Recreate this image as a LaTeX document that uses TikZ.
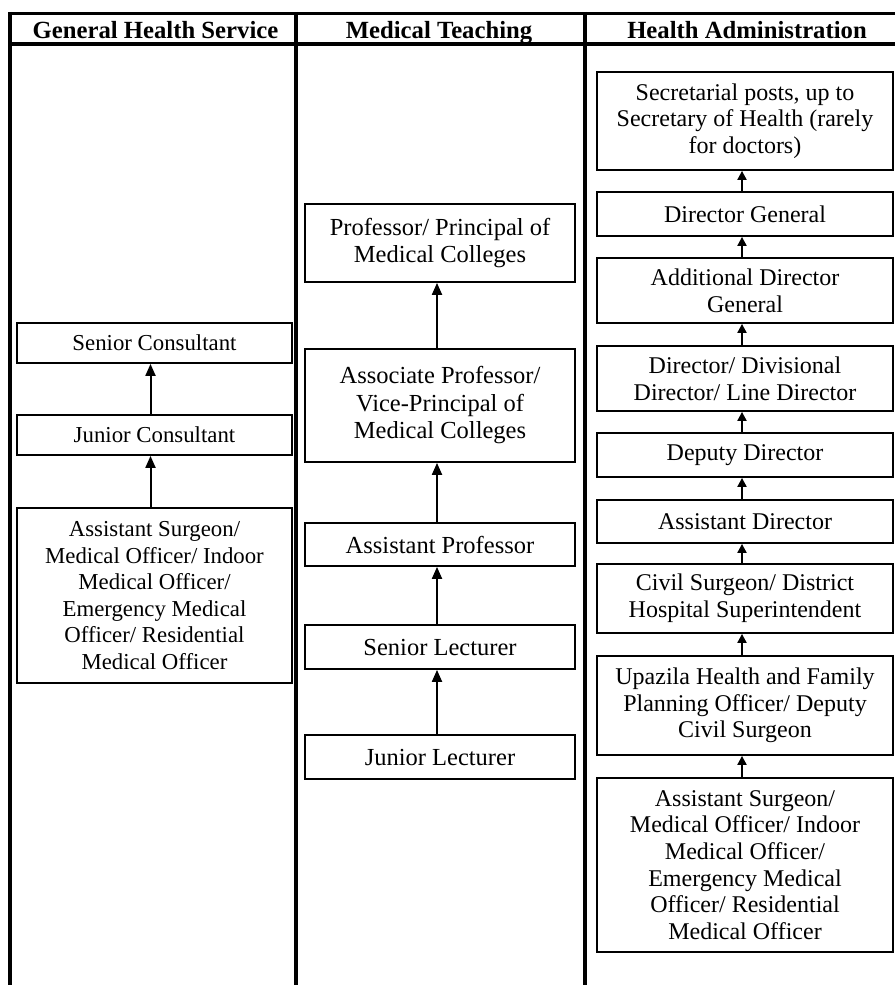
\documentclass[tikz,border=0pt]{standalone}
\usepackage{fontspec}
\setmainfont{Liberation Serif}
\usetikzlibrary{arrows.meta}
\begin{document}
\begin{tikzpicture}[x=1pt,y=-1pt,
  box/.style={draw, line width=1.8pt, align=center, inner sep=0pt},
  boxA/.style={box, minimum width=275pt, font=\fontsize{22.8}{26.5}\selectfont},
  boxB/.style={box, minimum width=270pt, font=\fontsize{24.5}{27.5}\selectfont},
  boxC/.style={box, minimum width=296pt, font=\fontsize{24}{26.7}\selectfont},
  arr/.style={line width=2pt, -{Triangle[length=12pt,width=10pt]}},
  arrs/.style={line width=2pt, -{Triangle[length=9pt,width=9pt]}},
  hdr/.style={anchor=base, inner sep=0pt, font=\fontsize{24.7}{28}\selectfont\bfseries},
  frame/.style={line width=4pt}]
\useasboundingbox (0,0) rectangle (895,985);
% frame
\draw[frame, line width=3.5pt] (8,13.5) -- (895,13.5);
\draw[frame] (8,44) -- (895,44);
\draw[frame] (10,11.75) -- (10,985);
\draw[frame] (296,11.75) -- (296,985);
\draw[frame] (584.5,11.75) -- (584.5,985);
% headers
\node[hdr] (t1) at (155.5,38) {General Health Service};
\node[hdr] (t2) at (439,38) {Medical Teaching};
\node[hdr] (t3) at (747,38) {Health Administration};
% column 1
\node[boxA, minimum height=40pt] (gs) at (154.5,343) {Senior Consultant};
\node[boxA, minimum height=40pt] (gj) at (154.5,435) {Junior Consultant};
\node[boxA, minimum height=175pt] (ga) at (154.5,595.5) {Assistant Surgeon/\\Medical Officer/ Indoor\\Medical Officer/\\Emergency Medical\\Officer/ Residential\\Medical Officer};
\draw[arr] ([xshift=-4pt]ga.north) -- ([xshift=-4pt]gj.south);
\draw[arr] ([xshift=-4pt]gj.north) -- ([xshift=-4pt]gs.south);
% column 2
\node[boxB, minimum height=78pt] (mp) at (440,243) {Professor/ Principal of\\Medical Colleges};
\node[boxB, minimum height=113pt] (ma) at (440,405.5) {Associate Professor/\\Vice-Principal of\\Medical Colleges};
\node[boxB, minimum height=43pt] (map) at (440,544.5) {Assistant Professor};
\node[boxB, minimum height=44pt] (msl) at (440,647) {Senior Lecturer};
\node[boxB, minimum height=44pt] (mjl) at (440,757) {Junior Lecturer};
\draw[arr] ([xshift=-3pt]mjl.north) -- ([xshift=-3pt]msl.south);
\draw[arr] ([xshift=-3pt]msl.north) -- ([xshift=-3pt]map.south);
\draw[arr] ([xshift=-3pt]map.north) -- ([xshift=-3pt]ma.south);
\draw[arr] ([xshift=-3pt]ma.north) -- ([xshift=-3pt]mp.south);
% column 3
\node[boxC, minimum height=98pt] (h1) at (745,121) {Secretarial posts, up to\\Secretary of Health (rarely\\for doctors)};
\node[boxC, minimum height=44pt] (h2) at (745,214) {Director General};
\node[boxC, minimum height=65pt] (h3) at (745,290.5) {Additional Director\\General};
\node[boxC, minimum height=65pt] (h4) at (745,378.5) {Director/ Divisional\\Director/ Line Director};
\node[boxC, minimum height=44pt] (h5) at (745,455) {Deputy Director};
\node[boxC, minimum height=43pt] (h6) at (745,521.5) {Assistant Director};
\node[boxC, minimum height=69pt] (h7) at (745,598.5) {Civil Surgeon/ District\\Hospital Superintendent};
\node[boxC, minimum height=99pt] (h8) at (745,705.5) {Upazila Health and Family\\Planning Officer/ Deputy\\Civil Surgeon};
\node[boxC, minimum height=174pt] (h9) at (745,865) {Assistant Surgeon/\\Medical Officer/ Indoor\\Medical Officer/\\Emergency Medical\\Officer/ Residential\\Medical Officer};
\draw[arrs] ([xshift=-3pt]h9.north) -- ([xshift=-3pt]h8.south);
\draw[arrs] ([xshift=-3pt]h8.north) -- ([xshift=-3pt]h7.south);
\draw[arrs] ([xshift=-3pt]h7.north) -- ([xshift=-3pt]h6.south);
\draw[arrs] ([xshift=-3pt]h6.north) -- ([xshift=-3pt]h5.south);
\draw[arrs] ([xshift=-3pt]h5.north) -- ([xshift=-3pt]h4.south);
\draw[arrs] ([xshift=-3pt]h4.north) -- ([xshift=-3pt]h3.south);
\draw[arrs] ([xshift=-3pt]h3.north) -- ([xshift=-3pt]h2.south);
\draw[arrs] ([xshift=-3pt]h2.north) -- ([xshift=-3pt]h1.south);
\end{tikzpicture}
\end{document}
